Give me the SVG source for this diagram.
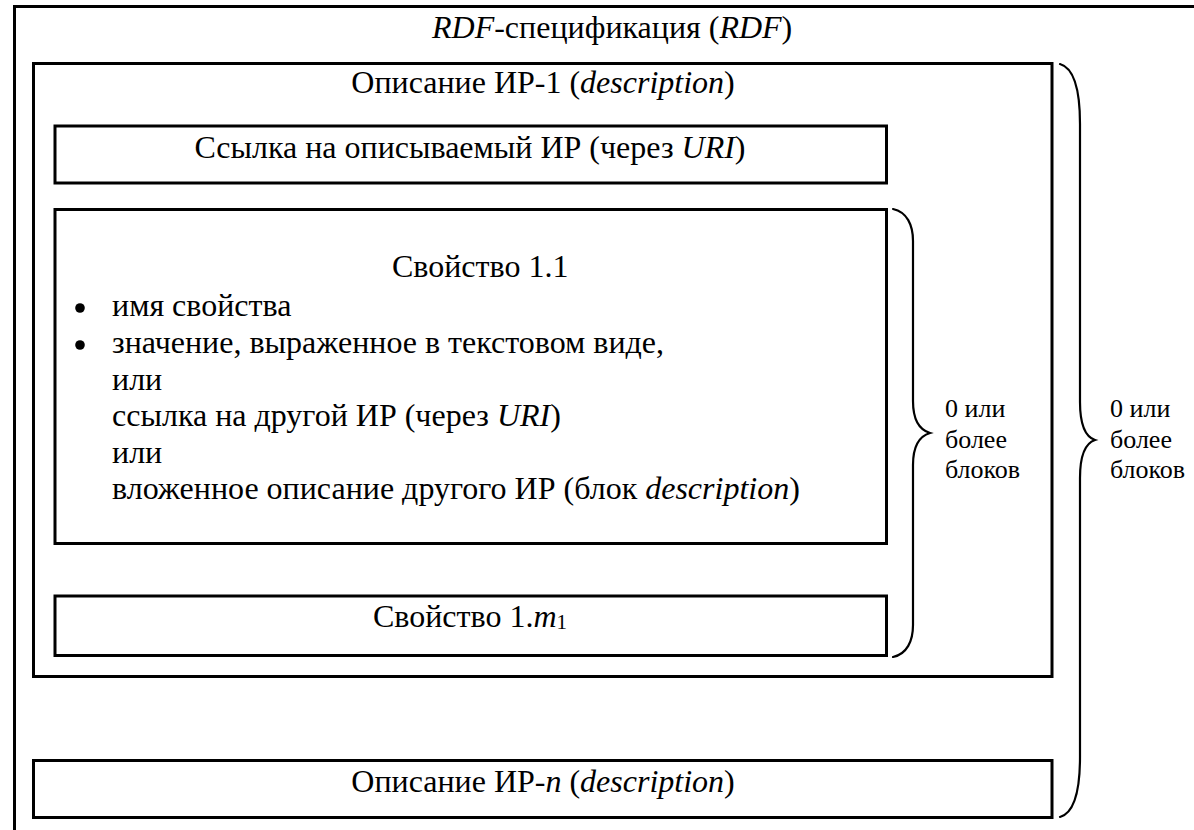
<svg xmlns="http://www.w3.org/2000/svg" width="1194" height="830" viewBox="0 0 1194 830">
  <style>
    .box { fill: none; stroke: #000; stroke-width: 3; }
    .brace { fill: none; stroke: #000; stroke-width: 2.2; stroke-linecap: round; }
    text { font-family: "Liberation Serif", "Times New Roman", serif; font-size: 32px; fill: #000; }
    .mid { text-anchor: middle; }
    .note { font-size: 26px; }
    .it { font-style: italic; }
    .sub { font-size: 21px; }
  </style>
  <rect width="1194" height="830" fill="#fff"/>

  <!-- RDF specification container (runs past the right and bottom edges) -->
  <g id="rdf-spec">
    <rect class="box" x="14.5" y="6.5" width="1210" height="900"/>
    <text x="432" y="38"><tspan class="it">RDF</tspan>-спецификация (<tspan class="it">RDF</tspan>)</text>
  </g>

  <!-- Description of resource 1 -->
  <g id="description-1">
    <rect class="box" x="33.5" y="63.5" width="1018.5" height="613"/>
    <text class="mid" x="543" y="93">Описание ИР-1 (<tspan class="it">description</tspan>)</text>
  </g>

  <g id="resource-link">
    <rect class="box" x="55" y="126" width="831.5" height="57"/>
    <text class="mid" x="470" y="158">Ссылка на описываемый ИР (через <tspan class="it">URI</tspan>)</text>
  </g>

  <g id="property-1-1">
    <rect class="box" x="55" y="209.5" width="831.5" height="334"/>
    <text x="392" y="277">Свойство 1.1</text>
    <circle cx="80" cy="308" r="4.8"/>
    <text x="112" y="316">имя свойства</text>
    <circle cx="80" cy="345" r="4.8"/>
    <text x="112" y="353">значение, выраженное в текстовом виде,</text>
    <text x="112" y="390">или</text>
    <text x="112" y="426">ссылка на другой ИР (через <tspan class="it">URI</tspan>)</text>
    <text x="112" y="463">или</text>
    <text x="112" y="499">вложенное описание другого ИР (блок <tspan class="it">description</tspan>)</text>
  </g>

  <g id="property-1-m1">
    <rect class="box" x="55" y="596" width="831.5" height="59.5"/>
    <text class="mid" x="470" y="627">Свойство 1.<tspan class="it">m</tspan><tspan class="sub" dy="2">1</tspan></text>
  </g>

  <!-- Description of resource n -->
  <g id="description-n">
    <rect class="box" x="33.5" y="760.5" width="1018.5" height="57"/>
    <text class="mid" x="543" y="792">Описание ИР-<tspan class="it">n</tspan> (<tspan class="it">description</tspan>)</text>
  </g>

  <!-- Curly braces with multiplicity notes -->
  <g id="connectors">
    <path class="brace" d="M893,209 C907,212 913,225 913,241 L913,401 C913,421 920,430 930,433 C920,436 913,445 913,465 L913,625 C913,641 907,654 893,657"/>
    <path class="brace" d="M1060,64 C1074,68 1080,90 1080,124 L1080,402 C1080,426 1086,437 1095,440 C1086,443 1080,454 1080,478 L1080,757 C1080,791 1074,813 1060,817"/>
  </g>

  <g id="note-properties">
    <text class="note" x="945" y="417">0 или</text>
    <text class="note" x="945" y="448">более</text>
    <text class="note" x="945" y="478">блоков</text>
  </g>
  <g id="note-descriptions">
    <text class="note" x="1110" y="417">0 или</text>
    <text class="note" x="1110" y="448">более</text>
    <text class="note" x="1110" y="478">блоков</text>
  </g>
</svg>
